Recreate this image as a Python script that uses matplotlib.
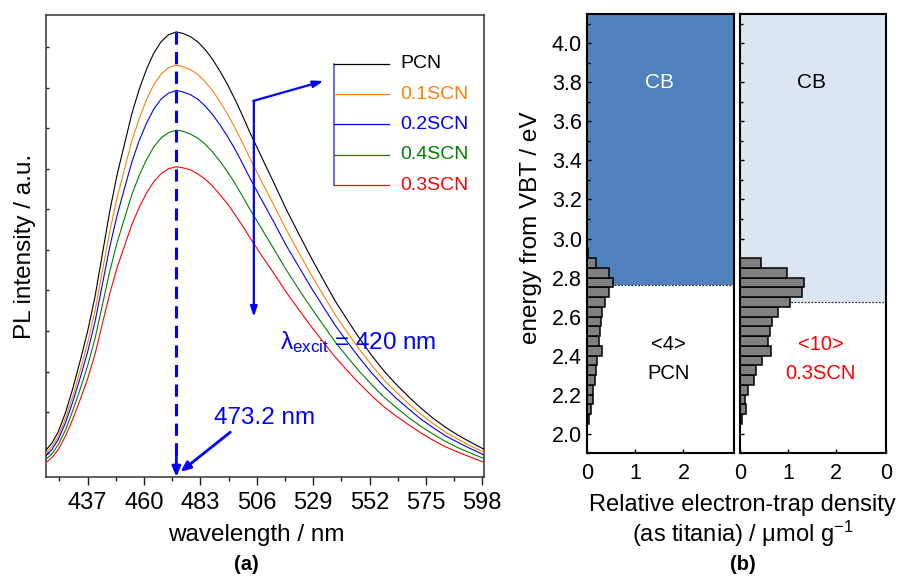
import matplotlib
matplotlib.use("Agg")
import matplotlib.pyplot as plt
from matplotlib.ticker import MultipleLocator, FixedLocator, NullFormatter, FormatStrFormatter

plt.rcParams['font.family'] = ['Liberation Sans', 'DejaVu Sans']
plt.rcParams['mathtext.fontset'] = 'custom'
plt.rcParams['mathtext.rm'] = 'Liberation Sans'
plt.rcParams['mathtext.it'] = 'Liberation Sans'
plt.rcParams['mathtext.bf'] = 'Liberation Sans:bold'

# ---------------- PL spectra (a) ----------------
wavelength = [420, 422.5, 425, 428, 431, 434, 437, 440, 443, 446,
              449, 452, 455, 458, 461, 464, 467, 470, 473.2, 476,
              479, 482, 485, 488, 491, 494, 497, 500, 503, 508,
              513, 518, 523, 528, 533, 538, 543, 548, 553, 558,
              563, 568, 573, 578, 583, 588, 593, 598.7]

pl_pcn = [1.07, 1.25, 1.52, 2.00, 2.60, 3.28, 4.00, 4.85, 5.90, 6.95,
          7.85, 8.60, 9.35, 9.95, 10.45, 10.85, 11.13, 11.30, 11.37, 11.33,
          11.25, 11.12, 10.93, 10.69, 10.40, 10.08, 9.72, 9.33, 8.92, 8.28,
          7.65, 7.00, 6.41, 5.83, 5.28, 4.74, 4.27, 3.81, 3.39, 3.01,
          2.68, 2.38, 2.10, 1.85, 1.63, 1.44, 1.27, 1.09]
pl_01scn = [0.99, 1.16, 1.41, 1.86, 2.41, 3.04, 3.71, 4.50, 5.48, 6.45,
            7.28, 7.98, 8.68, 9.23, 9.70, 10.07, 10.33, 10.49, 10.55, 10.51,
            10.44, 10.32, 10.14, 9.92, 9.65, 9.35, 9.02, 8.66, 8.28, 7.68,
            7.10, 6.50, 5.95, 5.41, 4.90, 4.40, 3.96, 3.54, 3.15, 2.79,
            2.49, 2.21, 1.95, 1.72, 1.51, 1.34, 1.18, 1.01]
pl_02scn = [0.93, 1.09, 1.33, 1.75, 2.27, 2.86, 3.49, 4.23, 5.15, 6.07,
            6.85, 7.51, 8.16, 8.69, 9.12, 9.47, 9.72, 9.86, 9.93, 9.89,
            9.82, 9.71, 9.54, 9.33, 9.08, 8.80, 8.49, 8.15, 7.79, 7.23,
            6.68, 6.11, 5.60, 5.09, 4.61, 4.14, 3.73, 3.33, 2.96, 2.63,
            2.34, 2.08, 1.83, 1.62, 1.42, 1.26, 1.11, 0.95]
pl_04scn = [0.84, 0.98, 1.20, 1.57, 2.05, 2.58, 3.15, 3.82, 4.64, 5.47,
            6.18, 6.77, 7.36, 7.83, 8.22, 8.54, 8.76, 8.89, 8.95, 8.92,
            8.85, 8.75, 8.60, 8.41, 8.18, 7.93, 7.65, 7.34, 7.02, 6.52,
            6.02, 5.51, 5.04, 4.59, 4.16, 3.73, 3.36, 3.00, 2.67, 2.37,
            2.11, 1.87, 1.65, 1.46, 1.28, 1.13, 1.00, 0.86]
pl_03scn = [0.76, 0.89, 1.08, 1.42, 1.84, 2.32, 2.83, 3.43, 4.18, 4.92,
            5.56, 6.09, 6.62, 7.04, 7.40, 7.68, 7.88, 8.00, 8.05, 8.02,
            7.97, 7.87, 7.74, 7.57, 7.36, 7.14, 6.88, 6.61, 6.32, 5.86,
            5.42, 4.96, 4.54, 4.13, 3.74, 3.36, 3.02, 2.70, 2.40, 2.13,
            1.90, 1.69, 1.49, 1.31, 1.15, 1.02, 0.90, 0.77]

sample_names = ["PCN", "0.1SCN", "0.2SCN", "0.4SCN", "0.3SCN"]
sample_colors = ["black", "#ff8000", "#0000ff", "#008000", "#ff0000"]
spectra = [pl_pcn, pl_01scn, pl_02scn, pl_04scn, pl_03scn]

peak_nm = 473.2
excit_nm = 420
wl_ticks = [437, 460, 483, 506, 529, 552, 575, 598]

# ---------------- trap distributions (b) ----------------
energy_bin_low = [2.05, 2.10, 2.15, 2.20, 2.25, 2.30, 2.35, 2.40, 2.45,
                  2.50, 2.55, 2.60, 2.65, 2.70, 2.75, 2.80, 2.85, 2.90]
trap_pcn = [0.035, 0.08, 0.125, 0.12, 0.15, 0.175, 0.195, 0.305, 0.245,
            0.26, 0.295, 0.305, 0.36, 0.455, 0.54, 0.455, 0.19, 0.01]
trap_03scn = [0.045, 0.125, 0.105, 0.175, 0.285, 0.335, 0.455, 0.645, 0.585,
              0.625, 0.675, 0.795, 1.045, 1.295, 1.335, 0.985, 0.435, 0.01]
bin_width = 0.05
cb_pcn = 2.764
cb_03scn = 2.673
trap_ticks = [0, 1, 2]

W, H = 901, 576
fig = plt.figure(figsize=(W / 100, H / 100), dpi=100)


def frac_box(x0, y0, x1, y1):
    return [x0 / W, 1 - y1 / H, (x1 - x0) / W, (y1 - y0) / H]


# ================= panel (a) =================
ax = fig.add_axes(frac_box(46, 15, 484, 477))
for name, vals, col in zip(sample_names, spectra, sample_colors):
    ax.plot(wavelength, vals, color=col, lw=0.8, zorder=3)

ax.set_xlim(excit_nm, 598.7)
ax.set_ylim(0.406, 11.786)
ax.xaxis.set_major_locator(FixedLocator(wl_ticks))
ax.xaxis.set_minor_locator(FixedLocator([t - 11.5 for t in wl_ticks]))
ax.yaxis.set_major_locator(MultipleLocator(1))
ax.yaxis.set_major_formatter(NullFormatter())
ax.tick_params(axis='x', which='major', direction='out', length=5.5, width=1.0,
               labelsize=17, pad=5, colors='#222222', labelcolor='black')
ax.tick_params(axis='x', which='minor', direction='out', length=3, width=1.0,
               colors='#222222')
ax.tick_params(axis='y', which='major', direction='in', length=2.5, width=1.0,
               colors='#222222')
for sp in ax.spines.values():
    sp.set_color('#333333')
    sp.set_linewidth(1.1)

# dashed marker at the emission maximum
peak_val = max(pl_pcn)
ax.plot([peak_nm, peak_nm], [peak_val, 0.95], color='#0000ff', lw=2.2,
        ls=(0, (4, 2.4)), zorder=4)
ax.annotate('', xy=(peak_nm, 0.406), xytext=(peak_nm, 1.0),
            arrowprops=dict(arrowstyle='-|>,head_length=0.6,head_width=0.25',
                            color='#0000ff', lw=2.0, shrinkA=0, shrinkB=0),
            zorder=5, annotation_clip=False)
ax.text(509.1, 1.86, f'{peak_nm} nm', color='#0000ff', fontsize=17.5,
        ha='center', va='center')
ax.annotate('', xy=(474.8, 0.53), xytext=(495.2, 1.51),
            arrowprops=dict(arrowstyle='-|>,head_length=0.6,head_width=0.25',
                            color='#0000ff', lw=2.0, shrinkA=0, shrinkB=0))

# bent arrow: decreasing intensity, pointing to the series list
ax.annotate('', xy=(504.8, 4.35), xytext=(504.8, 9.67),
            arrowprops=dict(arrowstyle='-|>,head_length=0.6,head_width=0.2',
                            color='#0000ff', lw=1.6, shrinkA=0, shrinkB=0))
ax.annotate('', xy=(533.2, 10.16), xytext=(504.6, 9.67),
            arrowprops=dict(arrowstyle='-|>,head_length=0.6,head_width=0.2',
                            color='#0000ff', lw=1.6, shrinkA=0, shrinkB=0))
ax.text(515.6, 3.74, r'$\lambda_{\mathrm{excit}}$' + f' = {excit_nm} nm',
        color='#0000ff', fontsize=17.5, ha='left', va='center')

# series list with connecting bar
leg_x0, leg_x1, leg_tx = 0.6575, 0.783, 0.808
leg_y = [0.894, 0.8283, 0.7634, 0.6976, 0.632]
ax.plot([leg_x0, leg_x0], [leg_y[0], leg_y[-1]], color='#4040ff', lw=1.1,
        transform=ax.transAxes)
for name, col, yy in zip(sample_names, sample_colors, leg_y):
    ax.plot([leg_x0, leg_x1], [yy, yy], color=col, lw=0.9,
            transform=ax.transAxes)
    ax.text(leg_tx, yy, name, color=col, fontsize=14, ha='left', va='center',
            transform=ax.transAxes)

fig.text(256 / W, 1 - 535 / H, 'wavelength / nm', fontsize=17.5,
         ha='center', va='center')
fig.text(25 / W, 1 - 246 / H, 'PL intensity / a.u.', fontsize=17.5,
         ha='center', va='center', rotation=90)
fig.text(246 / W, 1 - 565 / H, '(a)', fontsize=14.5, fontweight='bold',
         ha='center', va='center')

# ================= panel (b) =================
axL = fig.add_axes(frac_box(587.3, 14, 734, 453.3))
axR = fig.add_axes(frac_box(740, 14, 886, 453.3), sharey=axL)

panels = [
    (axL, trap_pcn, cb_pcn, '#4f81bd', 'white', '<4>', 'PCN', 'black'),
    (axR, trap_03scn, cb_03scn, '#dce6f2', 'black', '<10>', '0.3SCN', '#ff0000'),
]
for a, trap, cb, fill, cbcol, facet, label, labcol in panels:
    a.set_xlim(0, 3.05)
    a.axhspan(cb, 4.15, color=fill, lw=0, zorder=0)
    a.axhline(cb, color='#333333', lw=0.9, ls=(0, (1.5, 1.2)), zorder=1)
    a.barh(energy_bin_low, trap, height=bin_width, align='edge',
           color='#808080', edgecolor='black', lw=1.1, zorder=2)
    a.text(1.50, 3.80, 'CB', color=cbcol, fontsize=15, ha='center', va='center')
    a.text(1.69, 2.455, facet, color=labcol, fontsize=14.5, ha='center', va='center')
    a.text(1.69, 2.31, label, color=labcol, fontsize=14.5, ha='center', va='center')
    for sp in a.spines.values():
        sp.set_linewidth(1.5)
        sp.set_zorder(5)
    a.tick_params(axis='both', which='both', direction='in', width=1.0)
    a.tick_params(axis='y', which='major', length=3.2)
    a.tick_params(axis='y', which='minor', length=2.3)
    a.tick_params(axis='x', which='major', length=3.2, labelsize=15.5, pad=7)
    a.tick_params(axis='y', labelsize=15.5, pad=4)

axL.set_ylim(1.9, 4.15)
axL.yaxis.set_major_locator(MultipleLocator(0.2))
axL.yaxis.set_minor_locator(MultipleLocator(0.1))
axL.yaxis.set_major_formatter(FormatStrFormatter('%.1f'))
axL.xaxis.set_major_locator(FixedLocator(trap_ticks))
axR.xaxis.set_major_locator(FixedLocator(trap_ticks + [3.05]))
axR.set_xticklabels([str(t) for t in trap_ticks] + ['0'])
axR.tick_params(axis='y', labelleft=False)

fig.text(531 / W, 1 - 228 / H, 'energy from VBT / eV', fontsize=17.5,
         ha='center', va='center', rotation=90)
fig.text(742 / W, 1 - 505 / H, 'Relative electron-trap density', fontsize=17,
         ha='center', va='center')
fig.text(743 / W, 1 - 534 / H, r'(as titania) / μmol g$^{-1}$', fontsize=17,
         ha='center', va='center')
fig.text(743 / W, 1 - 565 / H, '(b)', fontsize=14.5, fontweight='bold',
         ha='center', va='center')

fig.savefig('out.png', dpi=100)
